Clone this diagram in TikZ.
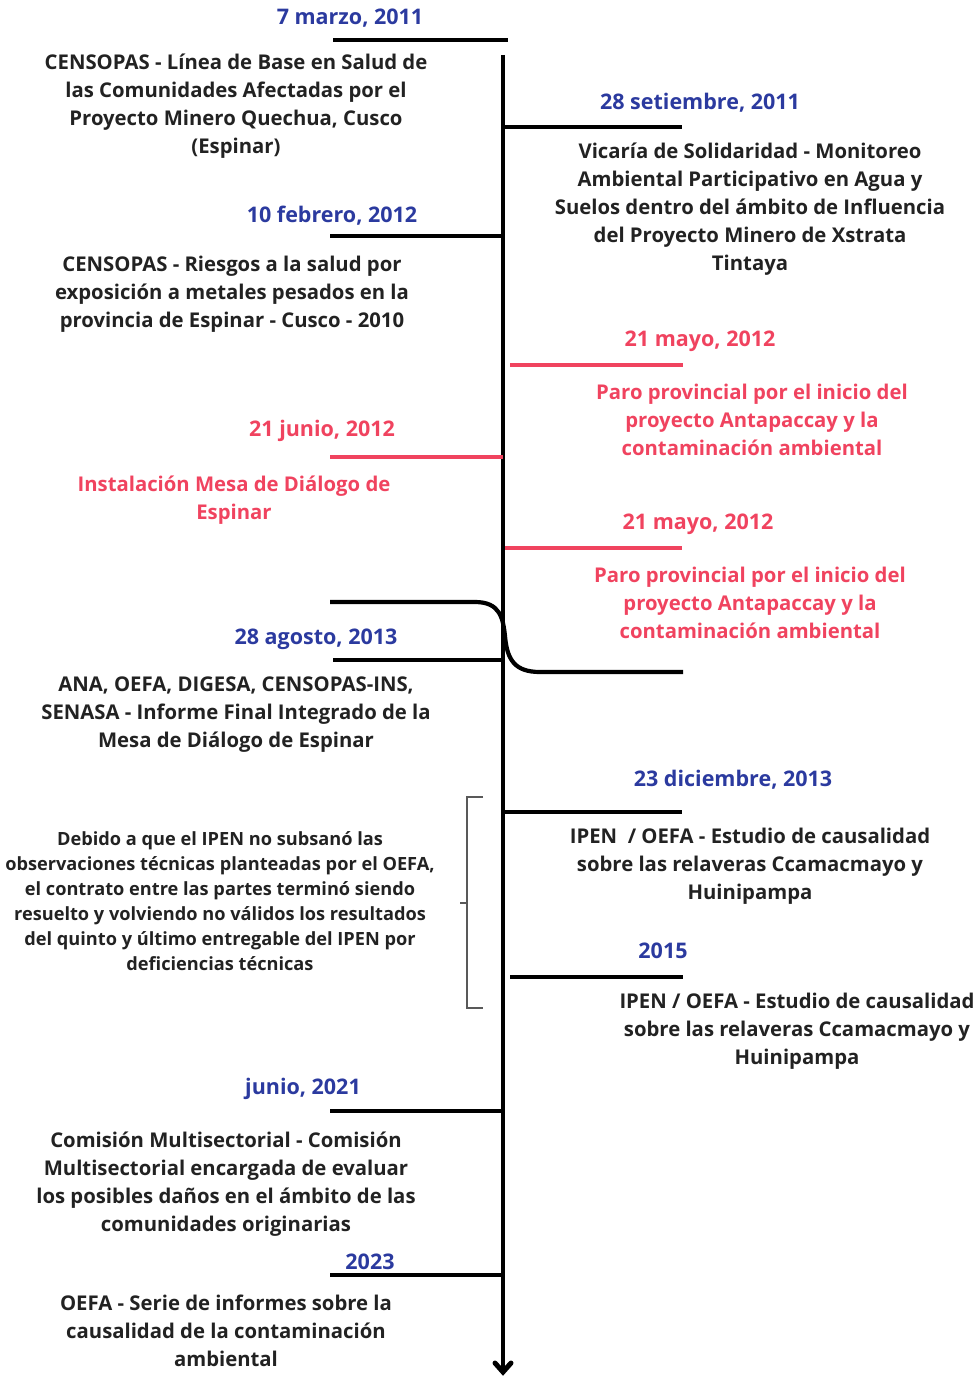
\documentclass[tikz,border=0pt]{standalone}
\usepackage{fontspec}
\setmainfont{Open Sans}
\usetikzlibrary{arrows.meta}
\definecolor{dblue}{HTML}{2B3A9F}
\definecolor{dred}{HTML}{F0435F}
\definecolor{dtext}{HTML}{222222}
\tikzset{
  datelbl/.style={anchor=base, inner sep=0pt, font=\bfseries\fontsize{21.5}{26}\selectfont, text=dblue},
  datered/.style={datelbl, text=dred},
  bodytxt/.style={anchor=north, inner sep=0pt, align=center, font=\bfseries\fontsize{20.3}{28}\selectfont, text=dtext, execute at begin node={\rule{0pt}{20pt}}},
  bodyred/.style={bodytxt, text=dred},
  bodysmall/.style={bodytxt, font=\bfseries\fontsize{18.2}{25}\selectfont},
  tick/.style={line width=4.2pt, draw=black},
  tickred/.style={line width=4pt, draw=dred},
  axis/.style={line width=4.6pt, draw=black},
  chevron/.style={line width=5pt, draw=black, line cap=round, line join=miter},
  brace/.style={line width=1.2pt, draw=black!65}
}
\begin{document}
\begin{tikzpicture}[x=1pt,y=-1pt]
\useasboundingbox (0,0) rectangle (977,1381);
% axis
\coordinate (axtop) at (503,55);
\coordinate (axbot) at (503,1372);
\coordinate (arL) at (495,1363);
\coordinate (arR) at (511,1363);
\draw[axis] (axtop) -- (axbot);
\draw[chevron] (arL) -- (axbot) -- (arR);

% 1
\coordinate (a1) at (333,40); \coordinate (b1) at (508,40);
\draw[tick] (a1) -- (b1);
\node[datelbl] (d1) at (350,25) {7 marzo, 2011};
\node[bodytxt] (t1) at (236,54) {CENSOPAS - Línea de Base en Salud de\\las Comunidades Afectadas por el\\Proyecto Minero Quechua, Cusco\\(Espinar)};

% 2
\coordinate (a2) at (505,127); \coordinate (b2) at (682,127);
\draw[tick] (a2) -- (b2);
\node[datelbl] (d2) at (700,109) {28 setiembre, 2011};
\node[bodytxt] (t2) at (750,143) {Vicaría de Solidaridad - Monitoreo\\Ambiental Participativo en Agua y\\Suelos dentro del ámbito de Influencia\\del Proyecto Minero de Xstrata\\Tintaya};

% 3
\coordinate (a3) at (330,236); \coordinate (b3) at (503,236);
\draw[tick] (a3) -- (b3);
\node[datelbl] (d3) at (332,222) {10 febrero, 2012};
\node[bodytxt] (t3) at (232,256) {CENSOPAS - Riesgos a la salud por\\exposición a metales pesados en la\\provincia de Espinar - Cusco - 2010};

% 4
\coordinate (a4) at (510,365); \coordinate (b4) at (683,365);
\draw[tickred] (a4) -- (b4);
\node[datered] (d4) at (700,346) {21 mayo, 2012};
\node[bodyred] (t4) at (752,384) {Paro provincial por el inicio del\\proyecto Antapaccay y la\\contaminación ambiental};

% 5
\coordinate (a5) at (330,457); \coordinate (b5) at (503,457);
\draw[tickred] (a5) -- (b5);
\node[datered] (d5) at (322,436) {21 junio, 2012};
\node[bodyred] (t5) at (234,476) {Instalación Mesa de Diálogo de\\Espinar};

% 6
\coordinate (a6) at (505,548); \coordinate (b6) at (682,548);
\draw[tickred] (a6) -- (b6);
\node[datered] (d6) at (698,529) {21 mayo, 2012};
\node[bodyred] (t6) at (750,567) {Paro provincial por el inicio del\\proyecto Antapaccay y la\\contaminación ambiental};

% curve
\coordinate (c1) at (330,602); \coordinate (c2) at (475,602);
\coordinate (c3) at (683,672); \coordinate (c4) at (540,672);
\draw[tick] (c1) -- (c2) .. controls (500,602) and (503,618) .. (505,636)
  .. controls (507,660) and (515,672) .. (c4) -- (c3);

% 8
\coordinate (a8) at (333,660); \coordinate (b8) at (503,660);
\draw[tick] (a8) -- (b8);
\node[datelbl] (d8) at (316,644) {28 agosto, 2013};
\node[bodytxt] (t8) at (236,677) {ANA, OEFA, DIGESA, CENSOPAS-INS,\\SENASA - Informe Final Integrado de la\\Mesa de Diálogo de Espinar};

% bracket
\coordinate (k1) at (483,797); \coordinate (k2) at (467,797);
\coordinate (k3) at (467,1008); \coordinate (k4) at (483,1008);
\coordinate (km) at (467,903); \coordinate (kn) at (460,903);
\draw[brace] (k1) -- (k2) -- (k3) -- (k4);
\draw[brace] (km) -- (kn);
\node[bodysmall] (t9) at (220,831) {Debido a que el IPEN no subsanó las\\observaciones técnicas planteadas por el OEFA,\\el contrato entre las partes terminó siendo\\resuelto y volviendo no válidos los resultados\\del quinto y último entregable del IPEN por\\deficiencias técnicas};

% 11
\coordinate (a11) at (505,812); \coordinate (b11) at (682,812);
\draw[tick] (a11) -- (b11);
\node[datelbl] (d11) at (733,786) {23 diciembre, 2013};
\node[bodytxt] (t11) at (750,828) {IPEN~ / OEFA - Estudio de causalidad\\sobre las relaveras Ccamacmayo y\\Huinipampa};

% 12
\coordinate (a12) at (510,977); \coordinate (b12) at (683,977);
\draw[tick] (a12) -- (b12);
\node[datelbl] (d12) at (663,958) {2015};
\node[bodytxt] (t12) at (797,993) {IPEN / OEFA - Estudio de causalidad\\sobre las relaveras Ccamacmayo y\\Huinipampa};

% 13
\coordinate (a13) at (330,1111); \coordinate (b13) at (503,1111);
\draw[tick] (a13) -- (b13);
\node[datelbl] (d13) at (303,1094) {junio, 2021};
\node[bodytxt] (t13) at (226,1132) {Comisión Multisectorial - Comisión\\Multisectorial encargada de evaluar\\los posibles daños en el ámbito de las\\comunidades originarias};

% 14
\coordinate (a14) at (330,1275); \coordinate (b14) at (503,1275);
\draw[tick] (a14) -- (b14);
\node[datelbl] (d14) at (370,1269) {2023};
\node[bodytxt] (t14) at (226,1295) {OEFA - Serie de informes sobre la\\causalidad de la contaminación\\ambiental};
\end{tikzpicture}
\end{document}
